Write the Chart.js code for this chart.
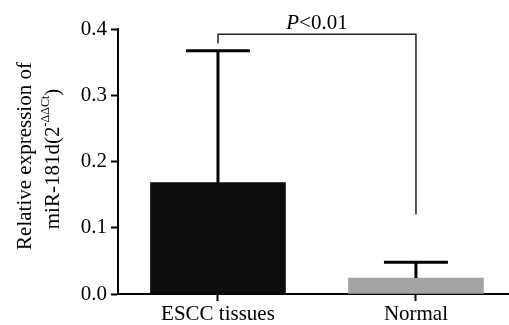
<!DOCTYPE html>
<html>
<head>
<meta charset="utf-8">
<script src="https://cdn.jsdelivr.net/npm/chart.js@4"></script>
<style>
  body { margin: 0; background: #fff; }
  canvas { display: block; }
</style>
</head>
<body>
<canvas id="bar" width="509" height="325"></canvas>
<script>
const categories = ['ESCC tissues', 'Normal'];
const means = [0.168, 0.024];
const upperErr = [0.367, 0.048];
const barColors = ['#0d0d0d', '#a3a3a3'];
const yTicks = [0, 0.1, 0.2, 0.3, 0.4];
// significance bracket: left end, right end, top
const bracketEnds = [0.378, 0.12];
const bracketTop = 0.392;

const serif = 'Liberation Serif';

const extras = {
    id: 'extras',
    afterDatasetsDraw(chart) {
        const ctx = chart.ctx;
        const xs = chart.scales.x;
        const ys = chart.scales.y;
        ctx.save();
        // error bars (upper only)
        ctx.strokeStyle = '#000';
        ctx.lineWidth = 3;
        means.forEach((m, i) => {
            const x = xs.getPixelForValue(i);
            const y0 = ys.getPixelForValue(m);
            const y1 = ys.getPixelForValue(upperErr[i]);
            ctx.beginPath();
            ctx.moveTo(x, y0);
            ctx.lineTo(x, y1);
            ctx.moveTo(x - 32, y1);
            ctx.lineTo(x + 32, y1);
            ctx.stroke();
        });
        // bracket
        const xa = xs.getPixelForValue(0);
        const xb = xs.getPixelForValue(1);
        const yt = ys.getPixelForValue(bracketTop);
        ctx.strokeStyle = '#222';
        ctx.lineWidth = 1.5;
        ctx.beginPath();
        ctx.moveTo(xa, ys.getPixelForValue(bracketEnds[0]));
        ctx.lineTo(xa, yt);
        ctx.lineTo(xb, yt);
        ctx.lineTo(xb, ys.getPixelForValue(bracketEnds[1]));
        ctx.stroke();
        // P<0.01
        ctx.fillStyle = '#000';
        ctx.textBaseline = 'alphabetic';
        ctx.textAlign = 'left';
        ctx.font = 'italic 21px ' + serif;
        const wp = ctx.measureText('P').width;
        ctx.font = '21px ' + serif;
        const wr = ctx.measureText('<0.01').width;
        let tx = (xa + xb) / 2 - (wp + wr) / 2;
        ctx.font = 'italic 21px ' + serif;
        ctx.fillText('P', tx, yt - 5);
        ctx.font = '21px ' + serif;
        ctx.fillText('<0.01', tx + wp, yt - 5);

        // y axis title
        ctx.save();
        ctx.translate(25, 156);
        ctx.rotate(-Math.PI / 2);
        ctx.textAlign = 'center';
        ctx.textBaseline = 'middle';
        ctx.fillText('Relative expression of', 0, 0);
        ctx.restore();

        ctx.save();
        ctx.translate(53, 159);
        ctx.rotate(-Math.PI / 2);
        ctx.textAlign = 'left';
        ctx.textBaseline = 'middle';
        const p1 = 'miR-181d(2', p2 = '-ΔΔCt', p3 = ')';
        ctx.font = '21px ' + serif;
        const w1 = ctx.measureText(p1).width;
        const w3 = ctx.measureText(p3).width;
        ctx.font = '12px ' + serif;
        const w2 = ctx.measureText(p2).width;
        let sx = -(w1 + w2 + w3) / 2;
        ctx.font = '21px ' + serif;
        ctx.fillText(p1, sx, 0);
        ctx.font = '12px ' + serif;
        ctx.fillText(p2, sx + w1, -7);
        ctx.font = '21px ' + serif;
        ctx.fillText(p3, sx + w1 + w2, 0);
        ctx.restore();

        ctx.restore();
    }
};

new Chart(document.getElementById('bar'), {
    type: 'bar',
    data: {
        datasets: [{
            data: means.map((v, i) => ({ x: i, y: v })),
            backgroundColor: barColors,
            barThickness: 135,
            borderWidth: 0
        }]
    },
    options: {
        responsive: false,
        animation: false,
        layout: { padding: { top: 29, right: 0, bottom: 0, left: 0 } },
        plugins: {
            legend: { display: false },
            tooltip: { enabled: false }
        },
        scales: {
            x: {
                type: 'linear',
                offset: false,
                min: -0.505,
                max: 1.47,
                afterBuildTicks: (s) => { s.ticks = categories.map((c, i) => ({ value: i })); },
                afterFit: (s) => { s.height = 31; },
                grid: { offset: false, drawOnChartArea: false, drawTicks: true, tickLength: 7, tickColor: '#000', tickWidth: 2 },
                border: { color: '#000', width: 2 },
                ticks: {
                    color: '#000',
                    padding: 1,
                    maxRotation: 0,
                    autoSkip: false,
                    font: { family: serif, size: 21 },
                    callback: (v) => categories[v]
                }
            },
            y: {
                min: 0,
                max: 0.4,
                afterBuildTicks: (s) => { s.ticks = yTicks.map(v => ({ value: v })); },
                afterFit: (s) => { s.width = 118; },
                grid: { drawOnChartArea: false, drawTicks: true, tickLength: 7, tickColor: '#000', tickWidth: 2 },
                border: { color: '#000', width: 2 },
                ticks: {
                    color: '#000',
                    padding: 4,
                    font: { family: serif, size: 21 },
                    callback: (v) => v.toFixed(1)
                }
            }
        }
    },
    plugins: [extras]
});
</script>
</body>
</html>
